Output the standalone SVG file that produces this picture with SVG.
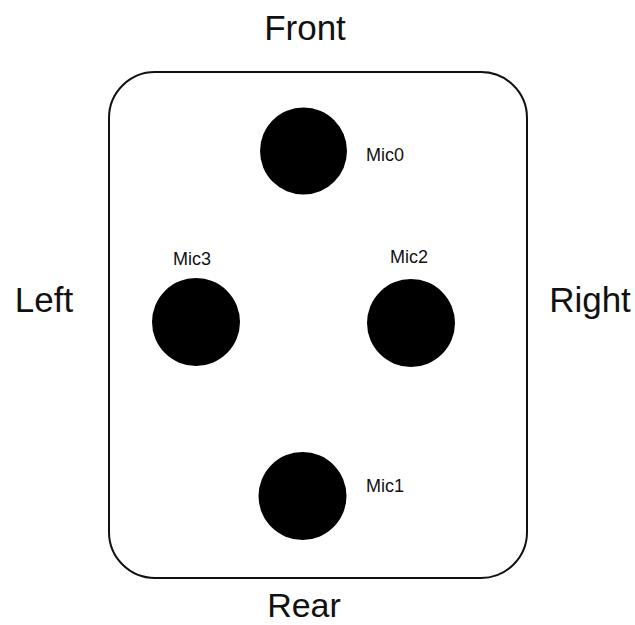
<svg xmlns="http://www.w3.org/2000/svg" width="635" height="625" viewBox="0 0 635 625">
<style>
.big{font-family:"Liberation Sans",Arial,sans-serif;font-size:35px;fill:#111}
.lbl{font-family:"Liberation Sans",Arial,sans-serif;font-size:18px;fill:#111}
.mic{fill:#000}
</style>
<rect width="635" height="625" fill="#fff"/>
<g id="board"><rect x="109" y="72" width="418" height="506" rx="46" ry="46" fill="none" stroke="#111" stroke-width="2"/></g>
<g id="front"><text class="big" x="305" y="40" text-anchor="middle">Front</text></g>
<g id="rear"><text class="big" x="304" y="617" text-anchor="middle" style="font-size:34px">Rear</text></g>
<g id="left"><text class="big" x="44" y="312" text-anchor="middle">Left</text></g>
<g id="right"><text class="big" x="590" y="312" text-anchor="middle">Right</text></g>
<g id="mic0"><circle class="mic" cx="303.5" cy="151" r="43.5"/><text class="lbl" x="366" y="161">Mic0</text></g>
<g id="mic3"><circle class="mic" cx="196" cy="322" r="44"/><text class="lbl" x="192" y="265" text-anchor="middle">Mic3</text></g>
<g id="mic2"><circle class="mic" cx="411" cy="323" r="44"/><text class="lbl" x="409" y="263" text-anchor="middle">Mic2</text></g>
<g id="mic1"><circle class="mic" cx="302.5" cy="496" r="44"/><text class="lbl" x="366" y="492">Mic1</text></g>
<g id="connectors"></g>
</svg>
